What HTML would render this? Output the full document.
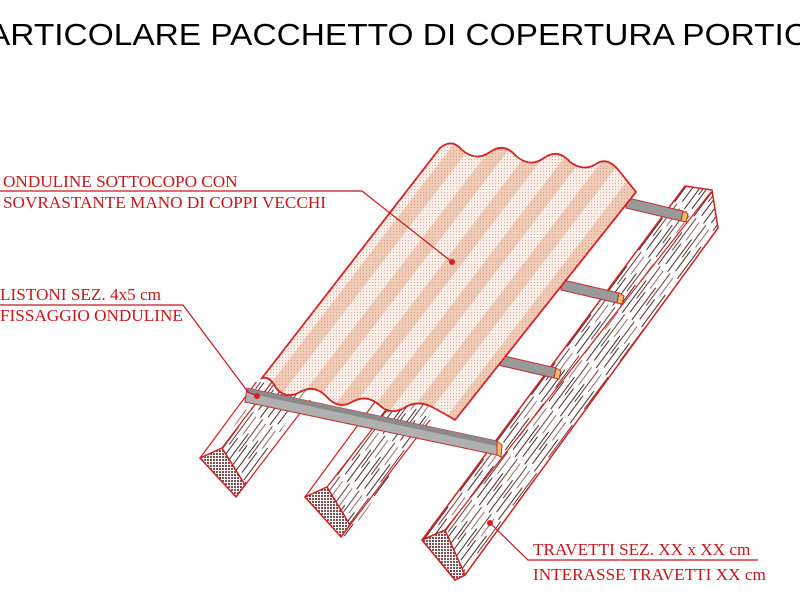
<!DOCTYPE html>
<html><head><meta charset="utf-8"><style>
html,body{margin:0;padding:0;background:#fff;width:800px;height:600px;overflow:hidden}
svg{display:block}
.t{font-family:"Liberation Serif",serif;fill:#c8161b;font-size:17.2px}
</style></head><body>
<svg width="800" height="600" viewBox="0 0 800 600" xmlns="http://www.w3.org/2000/svg">
<defs>
<pattern id="wood" width="60" height="12" patternUnits="userSpaceOnUse" patternTransform="rotate(-53.4)">
<line x1="0" y1="2" x2="40" y2="2" stroke="#4a2a2a" stroke-width="1"/>
<line x1="20" y1="5" x2="60" y2="5" stroke="#6a3a3a" stroke-width="0.9"/>
<line x1="5" y1="8" x2="30" y2="8" stroke="#4a2a2a" stroke-width="1"/>
<line x1="36" y1="10" x2="58" y2="10" stroke="#7a4040" stroke-width="0.8"/>
</pattern>
<pattern id="endg" width="3" height="3" patternUnits="userSpaceOnUse">
<rect width="3" height="3" fill="#fff"/><rect width="2" height="2" fill="#7a5050"/>
</pattern>
<pattern id="sheet" width="32" height="600" patternUnits="userSpaceOnUse" patternTransform="rotate(37.4)">
<rect width="32" height="600" fill="#faeee8"/>
<rect x="0" width="15" height="600" fill="#f0cbb6"/>
</pattern>
<pattern id="dots" width="3" height="3" patternUnits="userSpaceOnUse">
<rect x="0" y="0" width="1" height="1" fill="#c89080" opacity="0.7"/>
</pattern>
<clipPath id="cl"><polygon points="0,600 0,382 262,382 555,0 800,0 800,600"/></clipPath>
</defs>

<text x="-12" y="45" font-family="Liberation Sans,sans-serif" font-size="31" fill="#000" textLength="820" lengthAdjust="spacingAndGlyphs">ARTICOLARE  PACCHETTO DI COPERTURA PORTIC</text>

<g clip-path="url(#cl)">
<!-- left beam -->
<g>
<polygon points="200,458 222,448 260,380 330,280 380,280 245,485 236,497" fill="url(#wood)" stroke="none"/>
<polygon points="200,458 222,448 245,485 236,497" fill="url(#endg)" stroke="#d02020" stroke-width="1.5"/>
<polyline points="200,458 280,350" fill="none" stroke="#d02020" stroke-width="1.2"/>
<polyline points="222,448 300,345" fill="none" stroke="#d02020" stroke-width="1.2"/>
<polyline points="236,497 310,400" fill="none" stroke="#d02020" stroke-width="1.2"/>
</g>
<!-- middle beam -->
<g>
<polygon points="305,497 327,487 400,390 440,400 350,535 341,537" fill="url(#wood)"/>
<polygon points="305,497 327,487 350,525 341,537" fill="url(#endg)" stroke="#d02020" stroke-width="1.5"/>
<polyline points="305,497 380,395" fill="none" stroke="#d02020" stroke-width="1.2"/>
<polyline points="327,487 395,400" fill="none" stroke="#d02020" stroke-width="1.2"/>
<polyline points="341,537 430,420" fill="none" stroke="#d02020" stroke-width="1.2"/>
</g>
</g>
<!-- right beam -->
<g>
<polygon points="422,540 685,186 712,190 718,228 465,575 455,580" fill="url(#wood)"/>
<polygon points="422,540 685,186 712,190 718,228 465,575 455,580" fill="none" stroke="#d02020" stroke-width="1.5"/>
<polyline points="445,530 711,192" fill="none" stroke="#d02020" stroke-width="1.2"/>
<polygon points="422,540 445,530 465,575 455,580" fill="url(#endg)" stroke="#d02020" stroke-width="1.5"/>
</g>

<!-- battens upper -->
<g stroke="#c03030" stroke-width="1">
<polygon points="628,198 683,211 681,221 626,208" fill="#9a9a9a"/>
<polygon points="683,211 688,214 686,222 681,221" fill="#f0c060"/>
<polygon points="563,280 619,293 617,303 561,290" fill="#9a9a9a"/>
<polygon points="619,293 624,296 622,304 617,303" fill="#f0c060"/>
<polygon points="500,355 556,368 554,378 498,365" fill="#9a9a9a"/>
<polygon points="556,368 561,371 559,379 554,378" fill="#f0c060"/>
</g>

<!-- sheet -->
<path d="M262,378 L440,148 Q452,138 462,150 Q476,162 490,152 Q504,142 516,156 Q530,168 544,158 Q558,148 570,162 Q584,172 596,164 Q608,156 620,172 L636,192 L455,420 Q442,412 430,406 Q416,400 404,408 Q390,416 378,404 Q366,394 352,402 Q338,410 326,396 Q314,384 300,392 Q286,400 276,388 Q270,376 262,378 Z" fill="url(#sheet)" stroke="#d81e1e" stroke-width="1.8"/>
<path d="M262,378 L440,148 Q452,138 462,150 Q476,162 490,152 Q504,142 516,156 Q530,168 544,158 Q558,148 570,162 Q584,172 596,164 Q608,156 620,172 L636,192 L455,420 Q442,412 430,406 Q416,400 404,408 Q390,416 378,404 Q366,394 352,402 Q338,410 326,396 Q314,384 300,392 Q286,400 276,388 Q270,376 262,378 Z" fill="url(#dots)"/>

<!-- bottom batten -->
<g stroke="#c03030" stroke-width="1">
<polygon points="247,388 497,441 497,455 245,402" fill="#b0b0b0"/>
<polygon points="247,388 497,441 497,446 247,393" fill="#8a8a8a" stroke="none"/>
<polygon points="497,441 502,445 501,457 497,455" fill="#f0c060"/>
</g>

<!-- labels -->
<text class="t" x="3" y="187">ONDULINE SOTTOCOPO CON</text>
<text class="t" x="3" y="208">SOVRASTANTE MANO DI COPPI VECCHI</text>
<polyline points="0,191 362,191 452,262" fill="none" stroke="#c8161b" stroke-width="1.2"/>
<circle cx="452" cy="262" r="3" fill="#d81e1e"/>

<text class="t" x="0" y="300">LISTONI SEZ. 4x5 cm</text>
<text class="t" x="0" y="321">FISSAGGIO ONDULINE</text>
<polyline points="0,305 183,305 248,392 257,396" fill="none" stroke="#c8161b" stroke-width="1.2"/>
<circle cx="257" cy="396" r="3" fill="#d81e1e"/>

<text class="t" x="533" y="555">TRAVETTI SEZ. XX x XX cm</text>
<text class="t" x="533" y="580">INTERASSE TRAVETTI XX cm</text>
<polyline points="490,523 528,560 758,560" fill="none" stroke="#c8161b" stroke-width="1.2"/>
<circle cx="490" cy="523" r="3" fill="#d81e1e"/>
</svg>
</body></html>
